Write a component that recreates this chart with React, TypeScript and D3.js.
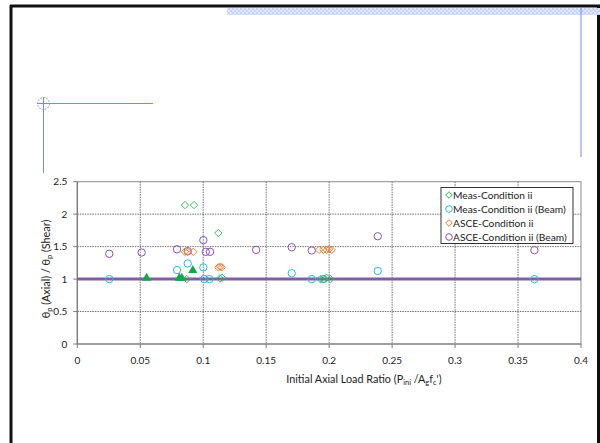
import React from "react";
import * as d3 from "d3";

// valeurs
const measX = [0.0855, 0.0927, 0.112, 0.0869, 0.1133, 0.115, 0.193, 0.196, 0.198, 0.201];
const measY = [2.14, 2.14, 1.71, 1.0, 1.01, 1.02, 1.0, 1.0, 1.02, 1.0];

const triX = [0.055, 0.081, 0.083, 0.0917];
const triY = [1.0, 1.0, 1.0, 1.12];

const measBeamX = [0.0254, 0.0792, 0.0877, 0.1001, 0.1009, 0.1049, 0.1703, 0.1862, 0.1954, 0.2386, 0.363];
const measBeamY = [1.0, 1.14, 1.24, 1.18, 1.0, 1.0, 1.09, 1.0, 1.0, 1.125, 1.0];

const asceX = [0.0855, 0.0877, 0.0921, 0.112, 0.1135, 0.1147, 0.192, 0.1954, 0.198, 0.2, 0.202];
const asceY = [1.42, 1.42, 1.42, 1.18, 1.19, 1.18, 1.45, 1.45, 1.45, 1.46, 1.45];

const asceBeamX = [0.0254, 0.0511, 0.0792, 0.0877, 0.1001, 0.102, 0.1054, 0.142, 0.1703, 0.1862, 0.2386, 0.363];
const asceBeamY = [1.39, 1.41, 1.46, 1.43, 1.6, 1.42, 1.42, 1.45, 1.49, 1.44, 1.66, 1.445];

const xTicks = [0, 0.05, 0.1, 0.15, 0.2, 0.25, 0.3, 0.35, 0.4];
const yTicks = [0, 0.5, 1, 1.5, 2, 2.5];
const xTickLabels = ["0", "0.05", "0.1", "0.15", "0.2", "0.25", "0.3", "0.35", "0.4"];
const yTickLabels = ["0", "0.5", "1", "1.5", "2", "2.5"];

const legendLabels = ["Meas-Condition ii", "Meas-Condition ii (Beam)", "ASCE-Condition ii", "ASCE-Condition ii (Beam)"];

const GREEN = "#2bb552";
const CYAN = "#2ab7ee";
const ORANGE = "#ed7d31";
const PURPLE = "#8a55b8";
const BLUE = "#6f8cff";

const font = "Lato, 'Open Sans', sans-serif";

const App = () => {
  const margin = { left: 77.3, right: 581, top: 181.7, bottom: 344 };
  const x = d3.scaleLinear().domain([0, 0.4]).range([margin.left, margin.right]);
  const y = d3.scaleLinear().domain([0, 2.5]).range([margin.bottom, margin.top]);

  const diamond = (cx: number, cy: number, r = 3.7) =>
    `M${cx},${cy - r}L${cx + r},${cy}L${cx},${cy + r}L${cx - r},${cy}Z`;
  const tri = d3.symbol().type(d3.symbolTriangle).size(36)();

  const legendItems = [
    { label: legendLabels[0], color: GREEN, shape: "diamond" },
    { label: legendLabels[1], color: CYAN, shape: "circle" },
    { label: legendLabels[2], color: ORANGE, shape: "diamond" },
    { label: legendLabels[3], color: PURPLE, shape: "circle" },
  ];

  return (
    <svg
      width={600}
      height={443}
      style={{ position: "absolute", left: 0, top: 0, background: "#fff" }}
    >
      <defs>
        <pattern id="hatch" width="4" height="4" patternUnits="userSpaceOnUse">
          <rect width="4" height="4" fill="#e3e9ff" />
          <rect width="2" height="2" fill="#c4d0ff" />
          <rect x="2" y="2" width="2" height="2" fill="#c4d0ff" />
        </pattern>
      </defs>

      {/* cadre */}
      <line x1={10} x2={600} y1={6} y2={6} stroke="#111" strokeWidth={3} />
      <line x1={11} x2={11} y1={5} y2={443} stroke="#111" strokeWidth={3} />
      <line x1={598.5} x2={598.5} y1={5} y2={443} stroke="#111" strokeWidth={3} />

      {/* décorations bleues */}
      <rect x={227} y={8} width={373} height={7} fill="url(#hatch)" />
      <line x1={581} x2={581} y1={8} y2={157} stroke={BLUE} strokeWidth={1} />
      <line x1={37} x2={153} y1={103.5} y2={103.5} stroke={BLUE} strokeWidth={1} />
      <line x1={43.5} x2={43.5} y1={97} y2={173} stroke={BLUE} strokeWidth={1} />
      <circle cx={43.5} cy={103.5} r={6} fill="none" stroke={BLUE} strokeWidth={0.8} strokeDasharray="2,1" />

      {/* grille */}
      {xTicks.slice(1, -1).map((t) => (
        <line key={"gx" + t} x1={x(t)} x2={x(t)} y1={margin.top} y2={margin.bottom}
          stroke="#333" strokeWidth={0.7} strokeDasharray="1.5,1" />
      ))}
      {yTicks.slice(1, -1).map((t) => (
        <line key={"gy" + t} x1={margin.left} x2={margin.right} y1={y(t)} y2={y(t)}
          stroke="#333" strokeWidth={0.7} strokeDasharray="1.5,1" />
      ))}
      <rect x={margin.left} y={margin.top} width={margin.right - margin.left}
        height={margin.bottom - margin.top} fill="none" stroke="#8a8a8a" strokeWidth={1} />
      <line x1={margin.left} x2={margin.left} y1={margin.top} y2={margin.bottom} stroke="#7a7a7a" strokeWidth={1.2} />
      <line x1={margin.left} x2={margin.right} y1={margin.bottom} y2={margin.bottom} stroke="#7a7a7a" strokeWidth={1.2} />

      {/* graduations */}
      {xTicks.map((t, i) => (
        <g key={"tx" + t}>
          <line x1={x(t)} x2={x(t)} y1={margin.bottom} y2={margin.bottom + 4} stroke="#7a7a7a" />
          <text x={x(t)} y={margin.bottom + 19.5} textAnchor="middle" fontSize={10} fontFamily={font} fill="#222">
            {xTickLabels[i]}
          </text>
        </g>
      ))}
      {yTicks.map((t, i) => (
        <g key={"ty" + t}>
          <line x1={margin.left - 4} x2={margin.left} y1={y(t)} y2={y(t)} stroke="#7a7a7a" />
          <text x={margin.left - 10} y={y(t) + 3.5} textAnchor="end" fontSize={10} fontFamily={font} fill="#222">
            {yTickLabels[i]}
          </text>
        </g>
      ))}

      {/* titres des axes */}
      <text x={364} y={383} textAnchor="middle" fontSize={10.8} fontFamily={font} fill="#222">
        Initial Axial Load Ratio (P<tspan fontSize={7.5} dy={2}>ini</tspan>
        <tspan dy={-2}> /A</tspan><tspan fontSize={7.5} dy={2}>g</tspan>
        <tspan dy={-2}>f</tspan><tspan fontSize={7.5} dy={2}>c</tspan><tspan dy={-2}>')</tspan>
      </text>
      <text transform={`translate(50,${269}) rotate(-90)`} textAnchor="middle" fontSize={10.8} fontFamily={font} fill="#222">
        θ<tspan fontSize={7.5} dy={2}>p</tspan><tspan dy={-2}> (Axial) / θ</tspan>
        <tspan fontSize={7.5} dy={2}>p</tspan><tspan dy={-2}> (Shear)</tspan>
      </text>

      {/* ligne de référence */}
      <line x1={x(0)} x2={x(0.4)} y1={y(1)} y2={y(1)} stroke="#7d5fa6" strokeWidth={3} />

      {/* séries */}
      {measBeamX.map((v, i) => (
        <circle key={"mb" + i} cx={x(v)} cy={y(measBeamY[i])} r={3.7} fill="none" stroke={CYAN} strokeWidth={1} />
      ))}
      {asceBeamX.map((v, i) => (
        <circle key={"ab" + i} cx={x(v)} cy={y(asceBeamY[i])} r={3.7} fill="none" stroke={PURPLE} strokeWidth={1} />
      ))}
      {asceX.map((v, i) => (
        <path key={"as" + i} d={diamond(x(v), y(asceY[i]))} fill="none" stroke={ORANGE} strokeWidth={1} />
      ))}
      {measX.map((v, i) => (
        <path key={"m" + i} d={diamond(x(v), y(measY[i]))} fill="none" stroke={GREEN} strokeWidth={0.9} />
      ))}
      {triX.map((v, i) => (
        <path key={"t" + i} d={tri || ""} transform={`translate(${x(v)},${y(triY[i]) - 1})`} fill="#16a64a" />
      ))}

      {/* légende */}
      <rect x={441} y={187.5} width={132} height={56} fill="#fff" stroke="#333" strokeWidth={1} />
      {legendItems.map((it, i) => {
        const ly = 195 + i * 14;
        return (
          <g key={"lg" + i}>
            {it.shape === "diamond" ? (
              <path d={diamond(449, ly, 3.3)} fill="none" stroke={it.color} strokeWidth={1} />
            ) : (
              <circle cx={449} cy={ly} r={3.3} fill="none" stroke={it.color} strokeWidth={1} />
            )}
            <text x={453} y={ly + 3.6} fontSize={10.2} fontFamily={font} fill="#222">{it.label}</text>
          </g>
        );
      })}
    </svg>
  );
};

export default App;
